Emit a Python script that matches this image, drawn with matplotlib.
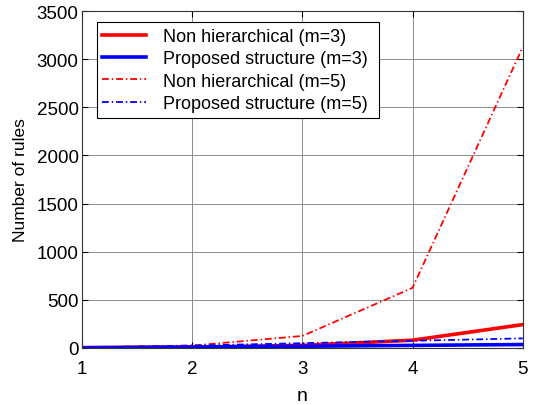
import matplotlib.pyplot as plt

plt.rcParams['font.family'] = ['Liberation Sans', 'DejaVu Sans']

n = [1, 2, 3, 4, 5]
non_hier_m3 = [3, 9, 27, 81, 243]
proposed_m3 = [3, 9, 18, 27, 36]
non_hier_m5 = [5, 25, 125, 625, 3125]
proposed_m5 = [5, 25, 50, 75, 100]

fig = plt.figure(figsize=(5.34, 4.06), dpi=100)
ax = fig.add_axes([0.1536, 0.1404, 0.8253, 0.830])

dash_dot = [3.8, 1.6, 0.8, 1.6]
ax.plot(n, non_hier_m3, color='red', lw=2.6, label='Non hierarchical (m=3)')
ax.plot(n, proposed_m3, color='blue', lw=2.6, label='Proposed structure (m=3)')
ax.plot(n, non_hier_m5, color='red', lw=1.3, dashes=dash_dot, label='Non hierarchical (m=5)')
ax.plot(n, proposed_m5, color='blue', lw=1.3, dashes=dash_dot, label='Proposed structure (m=5)')

ax.set_xlim(1, 5)
ax.set_ylim(0, 3500)
ax.set_xticks(n)
ax.set_yticks(range(0, 3501, 500))
ax.grid(True, color='#8c8c8c', lw=0.7)
ax.tick_params(direction='in', top=True, right=True, length=4)
ax.tick_params(axis='x', pad=8.5)
ax.tick_params(axis='y', pad=2.5)
for lbl in ax.get_xticklabels() + ax.get_yticklabels():
    lbl.set_family(['Liberation Sans Narrow', 'Liberation Sans'])
    lbl.set_fontsize(13.5)
for s in ax.spines.values():
    s.set_color('#333333')

ax.set_xlabel('n', fontsize=14, labelpad=7)
ax.set_ylabel('Number of rules', fontsize=12.5, labelpad=6)

leg = ax.legend(loc='upper left', bbox_to_anchor=(0.034, 0.0, 0.639, 0.966),
                mode='expand', borderaxespad=0, fontsize=13,
                fancybox=False, edgecolor='black', framealpha=1,
                handlelength=2.4, handletextpad=0.95, labelspacing=0.3,
                borderpad=0.3)
leg.get_frame().set_linewidth(0.8)

fig.savefig('out.png', dpi=100)
